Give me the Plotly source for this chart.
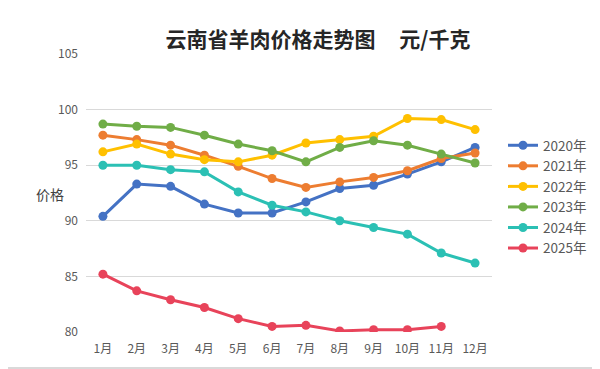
import plotly.graph_objects as go

months = ["1月", "2月", "3月", "4月", "5月", "6月", "7月", "8月", "9月", "10月", "11月", "12月"]
y2020 = [90.4, 93.3, 93.1, 91.5, 90.7, 90.7, 91.7, 92.9, 93.2, 94.2, 95.3, 96.6]
y2021 = [97.7, 97.3, 96.8, 95.9, 94.9, 93.8, 93.0, 93.5, 93.9, 94.5, 95.6, 96.1]
y2022 = [96.2, 96.9, 96.0, 95.5, 95.3, 95.9, 97.0, 97.3, 97.6, 99.2, 99.1, 98.2]
y2023 = [98.7, 98.5, 98.4, 97.7, 96.9, 96.3, 95.3, 96.6, 97.2, 96.8, 96.0, 95.2]
y2024 = [95.0, 95.0, 94.6, 94.4, 92.6, 91.4, 90.8, 90.0, 89.4, 88.8, 87.1, 86.2]
y2025 = [85.2, 83.7, 82.9, 82.2, 81.2, 80.5, 80.6, 80.1, 80.2, 80.2, 80.5, None]

series_names = ["2020年", "2021年", "2022年", "2023年", "2024年", "2025年"]
series_values = [y2020, y2021, y2022, y2023, y2024, y2025]
colors = ["#4472C4", "#ED7D31", "#FFC000", "#70AD47", "#2BC0B4", "#E8435A"]

y_ticks = [80, 85, 90, 95, 100, 105]

fig = go.Figure()
for name, vals, c in zip(series_names, series_values, colors):
    fig.add_trace(go.Scatter(
        x=months, y=vals, name=name, mode="lines+markers",
        line=dict(color=c, width=3),
        marker=dict(color=c, size=9),
    ))

FONT = "Noto Sans CJK SC, sans-serif"
# page body has an 8px margin, so figure coords = screen coords - 8
W, H = 600, 369
L, T = 78, 46
R = W - 484
B = H - 324
pw, ph = W - L - R, H - T - B


def px_x(x):
    return (x - L) / pw


def px_y(y):
    return 1 - (y - T) / ph


fig.update_layout(
    width=W, height=H,
    margin=dict(l=L, r=R, t=T, b=B),
    paper_bgcolor="white", plot_bgcolor="white",
    font=dict(family=FONT, size=12, color="#595959"),
    title=dict(text="<b>云南省羊肉价格走势图     元/千克</b>", x=310 / W, xanchor="center",
               y=1 - 32 / H, yanchor="middle",
               font=dict(family=FONT, size=21, color="#262626")),
    xaxis=dict(showgrid=False, showline=False, zeroline=False, ticks="",
               range=[-0.5, 11.5], ticklabelstandoff=8,
               tickfont=dict(size=12, color="#595959")),
    yaxis=dict(range=[80, 105], tickvals=y_ticks, showgrid=True, gridcolor="#D9D9D9",
               gridwidth=1, zeroline=False, showline=False, ticks="",
               ticklabelstandoff=7,
               tickfont=dict(size=12, color="#595959")),
    legend=dict(x=px_x(495), y=px_y(122), xanchor="left", yanchor="top",
                font=dict(size=13.5, color="#595959"), bgcolor="rgba(0,0,0,0)"),
    showlegend=True,
)

fig.add_annotation(text="价格", xref="paper", yref="paper",
                   x=px_x(26), y=px_y(186), showarrow=False,
                   font=dict(family=FONT, size=14, color="#404040"))

# outer frame (right and bottom edges visible)
fig.add_shape(type="line", xref="paper", yref="paper",
              x0=px_x(590), x1=px_x(590), y0=px_y(0), y1=px_y(361),
              line=dict(color="#D9D9D9", width=2))
fig.add_shape(type="line", xref="paper", yref="paper",
              x0=px_x(0), x1=px_x(592), y0=px_y(360), y1=px_y(360),
              line=dict(color="#D9D9D9", width=2))

fig.write_html("out.html")
